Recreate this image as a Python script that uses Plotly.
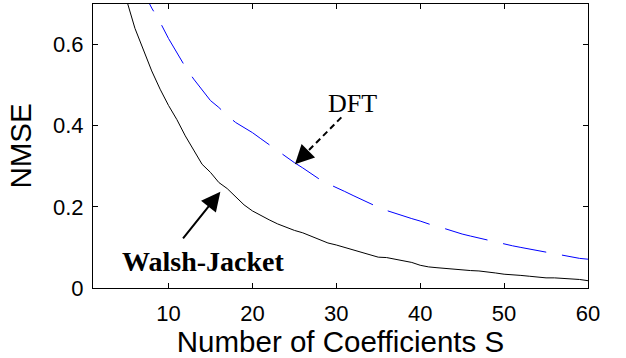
import plotly.graph_objects as go

# Number of coefficients S
s_walsh = list(range(4, 61))
nmse_walsh = [0.80, 0.71, 0.64, 0.585, 0.535, 0.49, 0.45, 0.415, 0.375, 0.34,
              0.305, 0.285, 0.26, 0.245, 0.225, 0.205, 0.19, 0.178, 0.168, 0.158,
              0.150, 0.142, 0.136, 0.127, 0.118, 0.111, 0.106, 0.100, 0.095, 0.088,
              0.082, 0.076, 0.075, 0.071, 0.067, 0.063, 0.056, 0.052, 0.050, 0.048,
              0.046, 0.044, 0.043, 0.042, 0.040, 0.037, 0.034, 0.033, 0.031, 0.029,
              0.027, 0.025, 0.025, 0.024, 0.023, 0.021, 0.018]

s_dft = list(range(6, 61))
nmse_dft = [0.78, 0.73, 0.69, 0.655, 0.615, 0.58, 0.545, 0.515, 0.487, 0.462,
            0.445, 0.425, 0.408, 0.396, 0.383, 0.368, 0.353, 0.338, 0.322, 0.309,
            0.296, 0.281, 0.268, 0.257, 0.248, 0.238, 0.228, 0.218, 0.208, 0.199,
            0.191, 0.184, 0.178, 0.171, 0.165, 0.158, 0.151, 0.146, 0.139, 0.133,
            0.128, 0.123, 0.118, 0.113, 0.109, 0.104, 0.100, 0.096, 0.092, 0.088,
            0.084, 0.080, 0.076, 0.073, 0.071]

x_ticks = [10, 20, 30, 40, 50, 60]
y_ticks = [0, 0.2, 0.4, 0.6]

fig = go.Figure()
fig.add_trace(go.Scatter(x=s_walsh, y=nmse_walsh, mode="lines",
                         line=dict(color="black", width=1), showlegend=False))
fig.add_trace(go.Scatter(x=s_dft, y=nmse_dft, mode="lines",
                         line=dict(color="blue", width=1, dash="44px,16px"),
                         showlegend=False))

axis_common = dict(showline=True, linecolor="black", linewidth=1, mirror="ticks",
                   ticks="inside", ticklen=5, tickcolor="black", showgrid=False,
                   zeroline=False,
                   tickfont=dict(family="Liberation Sans, Arial", size=22, color="black"))

fig.update_xaxes(range=[1, 60], tickvals=x_ticks, ticklabelstandoff=6,
                 title=dict(text="Number of Coefficients S",
                            font=dict(family="Liberation Sans, Arial", size=29.5, color="black"),
                            standoff=4),
                 **axis_common)
fig.update_yaxes(range=[0, 0.7], tickvals=y_ticks, ticktext=["0", "0.2", "0.4", "0.6"],
                 ticklabelstandoff=4,
                 title=dict(text="NMSE",
                            font=dict(family="Liberation Sans, Arial", size=29.5, color="black"),
                            standoff=12),
                 **axis_common)

# DFT label with dashed arrow
fig.add_shape(type="line", x0=30.6, y0=0.4206, x1=26.7, y1=0.339,
              line=dict(color="black", width=2, dash="6px,4px"))
fig.add_annotation(x=25.07, y=0.305, ax=26.8, ay=0.341, axref="x", ayref="y",
                   xref="x", yref="y", text="", showarrow=True,
                   arrowhead=2, arrowsize=1.9, arrowwidth=2, arrowcolor="black")
fig.add_annotation(x=31.96, y=0.454, text="DFT", showarrow=False,
                   font=dict(family="Liberation Serif, Times New Roman", size=26, color="black"))

# Walsh-Jacket label with solid arrow
fig.add_annotation(x=16.18, y=0.237, ax=11.59, ay=0.1187, axref="x", ayref="y",
                   xref="x", yref="y", text="", showarrow=True,
                   arrowhead=2, arrowsize=1.9, arrowwidth=2, arrowcolor="black")
fig.add_annotation(x=14.13, y=0.0649, text="<b>Walsh-Jacket</b>", showarrow=False,
                   font=dict(family="Liberation Serif, Times New Roman", size=28, color="black"))

fig.update_layout(width=626, height=358, margin=dict(l=93, r=38, t=4, b=70),
                  paper_bgcolor="white", plot_bgcolor="white")

fig.write_html("out.html")
